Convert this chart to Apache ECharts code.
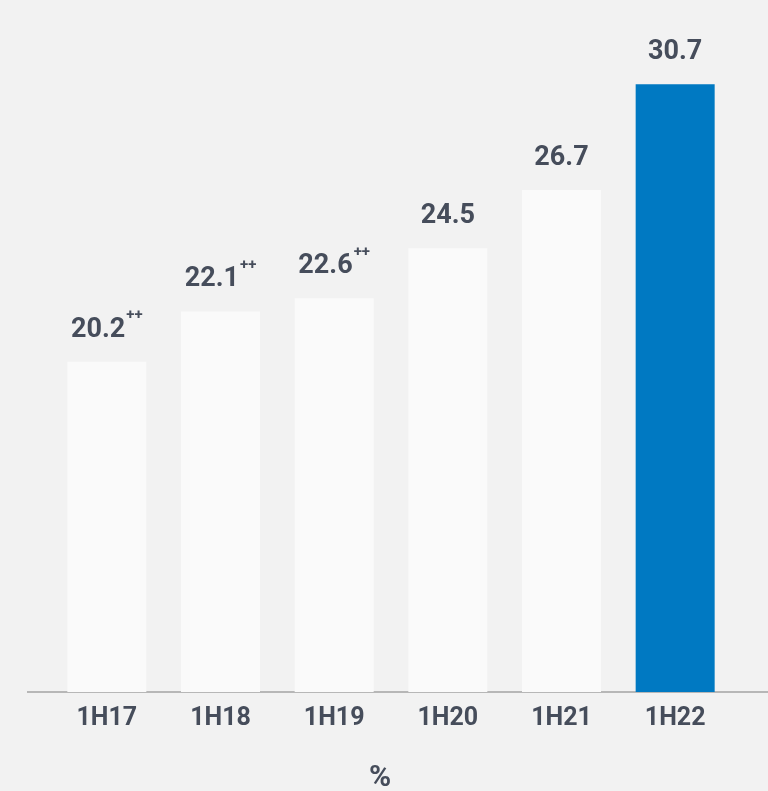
<!DOCTYPE html>
<html>
<head>
<meta charset="utf-8">
<script src="https://cdn.jsdelivr.net/npm/echarts@6/dist/echarts.min.js"></script>
<style>
  html, body { margin: 0; padding: 0; background: #f2f2f2; }
  #chart { width: 768px; height: 791px; }
</style>
</head>
<body>
<div id="chart"></div>
<script>
// data
var categories = ['1H17', '1H18', '1H19', '1H20', '1H21', '1H22']
var values = [20.2, 22.1, 22.6, 24.5, 26.7, 30.7]
var marks = ['++', '++', '++', '', '', ''] // superscript notes
var unitLabel = '%'

var textColor = '#464d5b'

var chart = echarts.init(document.getElementById('chart'))

chart.setOption({
    backgroundColor: '#f2f2f2',
    textStyle: { fontFamily: 'Roboto' },
    title: {
        text: unitLabel,
        left: 364,
        top: 757,
        textStyle: { color: textColor, fontSize: 30, fontWeight: 'bold', fontFamily: 'Roboto', lineHeight: 32 }
    },
    grid: { left: 50, right: 36, top: 50, bottom: 99 },
    xAxis: {
        type: 'category',
        data: categories,
        axisLine: { show: false },
        axisTick: { show: false },
        axisLabel: {
            margin: 14,
            color: textColor,
            fontSize: 25,
            fontWeight: 'bold',
            fontFamily: 'Roboto'
        }
    },
    yAxis: {
        type: 'value',
        min: 7.7,
        max: 32,
        show: false,
        splitLine: { show: false }
    },
    // baseline runs wider than the bars' grid
    graphic: [{
        type: 'line',
        shape: { x1: 27, y1: 692, x2: 768, y2: 692 },
        style: { stroke: '#a3a3a3', lineWidth: 1.5 }
    }],
    series: [{
        type: 'bar',
        barWidth: 79,
        data: values.map(function(v, i) {
            return {
                value: v,
                itemStyle: { color: i === values.length - 1 ? '#0079c2' : '#fafafa' }
            }
        }),
        label: {
            show: true,
            position: 'top',
            distance: 10,
            formatter: function(p) {
                var m = marks[p.dataIndex]
                return '{v|' + p.value + '}' + (m ? '{s|' + m + '}' : '')
            },
            rich: {
                v: { color: textColor, fontSize: 27, fontWeight: 'bold', fontFamily: 'Roboto', lineHeight: 44 },
                s: { color: textColor, fontSize: 15, fontWeight: 'bold', fontFamily: 'Roboto', verticalAlign: 'top', lineHeight: 15, padding: [0, 0, 0, 1] }
            }
        }
    }]
})
</script>
</body>
</html>
